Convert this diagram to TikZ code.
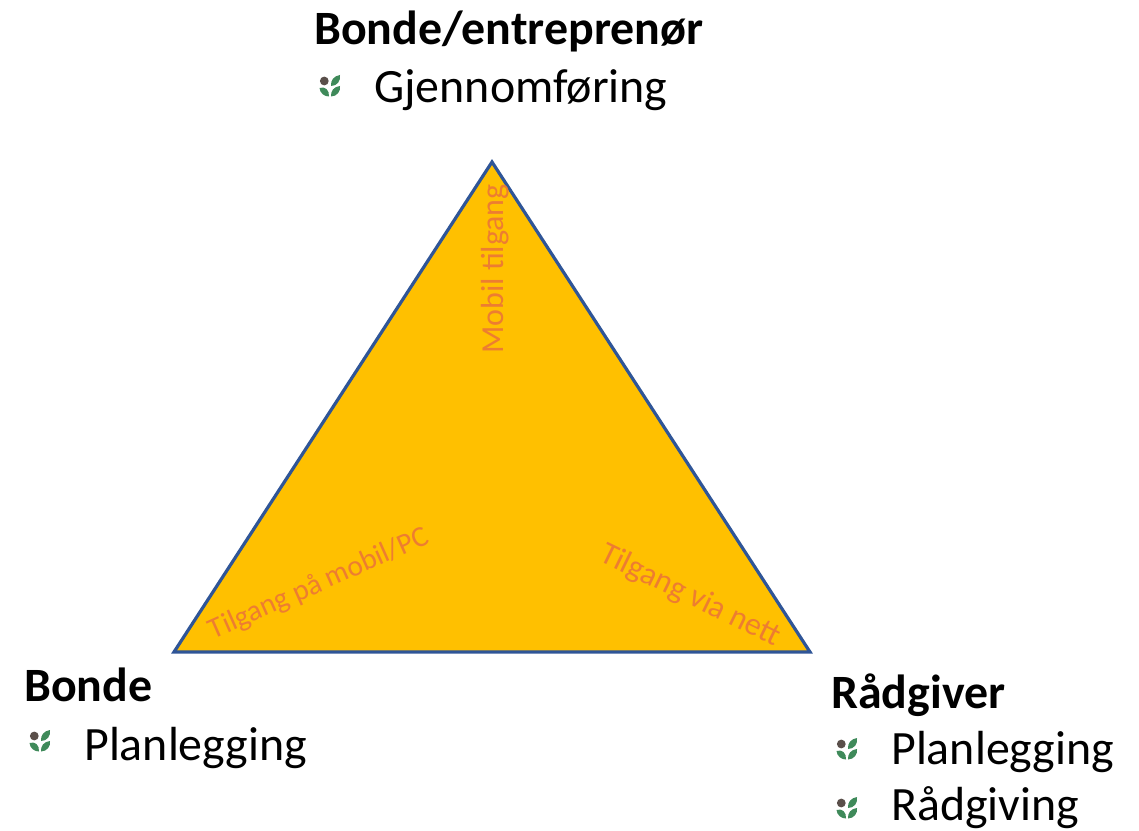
\documentclass[tikz,border=0pt]{standalone}
\usepackage{fontspec}
\setmainfont{Carlito}
\usepackage{pgf,tikz}
\usetikzlibrary{positioning}
\definecolor{triFill}{HTML}{FFC000}
\definecolor{triLine}{HTML}{2F5597}
\definecolor{accessText}{HTML}{ED7D31}
\definecolor{leafGreen}{HTML}{3F8A5A}
\definecolor{seedGrey}{HTML}{5A4F4A}
\tikzset{
	roleLabel/.style={anchor=base west,inner sep=0pt,font=\fontsize{35.9}{42}\selectfont\bfseries},
	taskLabel/.style={anchor=base west,inner sep=0pt,font=\fontsize{35.9}{42}\selectfont},
	accessLabel/.style={inner sep=0pt,text=accessText,font=\fontsize{24}{28}\selectfont},
	pics/sprout/.style={code={
		\fill[seedGrey] (-5.7,-5) circle [radius=4.4];
		\fill[leafGreen] (-10.5,2) .. controls (-5,0) and (-0.5,4) .. (-1,10.5) .. controls (-6,10.5) and (-10,7) .. (-10.5,2) -- cycle;
		\fill[leafGreen] (1,0) .. controls (0.5,-6) and (4,-10) .. (10,-11) .. controls (11,-5) and (7,0) .. (1,0) -- cycle;
		\fill[leafGreen] (1,10.5) .. controls (0.5,5) and (4,0.5) .. (10,0) .. controls (11,5) and (7,10.5) .. (1,10.5) -- cycle;
	}}
}
\begin{document}
\begin{tikzpicture}[x=0.75pt,y=-0.75pt]
	\useasboundingbox (0,0) rectangle (1139,831);
	% triangle
	\coordinate (top) at (492,162);
	\coordinate (left) at (174,652);
	\coordinate (right) at (810,652);
	\draw[triLine,fill=triFill,line width=2.4pt,line join=miter] (top) -- (left) -- (right) -- cycle;
	% access texts
	\node[accessLabel,rotate=90] (mobil) at (495,269) {Mobil tilgang};
	\node[accessLabel,rotate=24,font=\fontsize{22}{26}\selectfont] (mobilpc) at (319,584) {Tilgang på mobil/PC};
	\node[accessLabel,rotate=-26] (nett) at (690,596) {Tilgang via nett};
	% top group
	\node[roleLabel] (entreprenor) at (314,44.5) {Bonde/entreprenør};
	\node[taskLabel] (gjennomforing) at (374,102.5) {Gjennomføring};
	\pic at (330,86) {sprout};
	% left group
	\node[roleLabel] (bonde) at (24,701.5) {Bonde};
	\node[taskLabel] (planbonde) at (84,760.5) {Planlegging};
	\pic at (40,741) {sprout};
	% right group
	\node[roleLabel] (radgiver) at (831,708.5) {Rådgiver};
	\node[taskLabel] (planradgiver) at (891,764.5) {Planlegging};
	\node[taskLabel] (radgiving) at (891,820.5) {Rådgiving};
	\pic at (847,749) {sprout};
	\pic at (847,808) {sprout};
\end{tikzpicture}
\end{document}
